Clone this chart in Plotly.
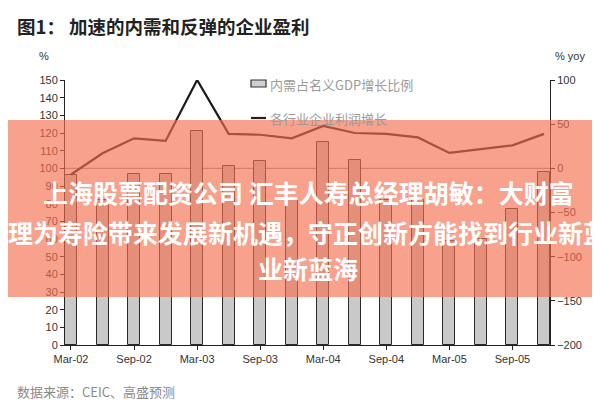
import plotly.graph_objects as go

# ---- data ----
quarters = ["Mar-02", "Jun-02", "Sep-02", "Dec-02", "Mar-03", "Jun-03", "Sep-03", "Dec-03",
            "Mar-04", "Jun-04", "Sep-04", "Dec-04", "Mar-05", "Jun-05", "Sep-05", "Dec-05"]
domestic_share = [96, 82, 97, 97, 121, 101.5, 104, 83, 115, 105, 82, 82, 59, 60, 77, 98]
profit_growth = [-7, 17, 34, 31, 100, 39, 38, 34, 48, 40, 39, 35, 17.5, 22, 26, 39]
tick_idx = [0, 2, 4, 6, 8, 10, 12, 14]
tick_text = [quarters[i] for i in tick_idx]
left_ticks = list(range(0, 151, 10))
right_ticks = list(range(-200, 101, 50))

W, H = 600, 400
ML, MR, MT, MB = 57, 58, 72, 63
PW, PH = W - ML - MR, H - MT - MB


def px(x):
    return (x - ML) / PW


def py(y):
    return (H - MB - y) / PH


FONT = "Liberation Sans, Arial, Noto Sans CJK SC, sans-serif"
CJK = "Noto Sans CJK SC, sans-serif"

xs = list(range(len(quarters)))

fig = go.Figure()
fig.add_trace(go.Bar(
    x=xs, y=domestic_share, width=0.38, name="内需占名义GDP增长比例",
    marker=dict(color="#c9c9c9", line=dict(color="#2a2a2a", width=1)),
    yaxis="y", showlegend=False,
))
fig.add_trace(go.Scatter(
    x=xs, y=profit_growth, mode="lines", name="各行业企业利润增长",
    line=dict(color="#1a1a1a", width=2.2), yaxis="y2", showlegend=False,
))

fig.update_layout(
    width=W, height=H,
    margin=dict(l=ML, r=MR, t=MT, b=MB, pad=0),
    paper_bgcolor="white", plot_bgcolor="white",
    font=dict(family=FONT, size=11, color="#333"),
    xaxis=dict(
        range=[-0.19, len(quarters) - 1 + 0.19], tickvals=tick_idx, ticktext=tick_text,
        showline=True, linecolor="#222", linewidth=1, ticks="outside", ticklen=4,
        tickcolor="#222", showgrid=False, zeroline=False,
        tickfont=dict(family=FONT, size=11, color="#333"),
    ),
    yaxis=dict(
        range=[0, 150], tickvals=left_ticks, showline=True, linecolor="#222", linewidth=1,
        ticks="outside", ticklen=4, tickcolor="#222", showgrid=False, zeroline=False,
        tickfont=dict(family=FONT, size=11, color="#333"),
    ),
    yaxis2=dict(
        range=[-200, 100], tickvals=right_ticks, overlaying="y", side="right",
        showline=True, linecolor="#222", linewidth=1, ticks="outside", ticklen=4,
        tickcolor="#222", showgrid=False, zeroline=False,
        tickfont=dict(family=FONT, size=11, color="#333"),
    ),
    bargap=0,
)

shapes = []
annotations = []

# right-axis zero reference line
shapes.append(dict(type="line", xref="paper", yref="y2", x0=0, x1=1, y0=0, y1=0,
                   line=dict(color="#8a8a8a", width=1), layer="below"))

# legend (manual)
shapes.append(dict(type="rect", xref="paper", yref="paper",
                   x0=px(243), x1=px(258), y0=py(79), y1=py(72),
                   fillcolor="#d0d0d0", line=dict(color="#333", width=1.2)))
annotations.append(dict(text="内需占名义GDP增长比例", xref="paper", yref="paper",
                        x=px(260), y=py(76), xanchor="left", yanchor="middle",
                        showarrow=False, font=dict(family=CJK, size=13, color="#9a9a9a")))
shapes.append(dict(type="line", xref="paper", yref="paper",
                   x0=px(243), x1=px(258), y0=py(110), y1=py(110),
                   line=dict(color="#222", width=2.2)))
annotations.append(dict(text="各行业企业利润增长", xref="paper", yref="paper",
                        x=px(260), y=py(110), xanchor="left", yanchor="middle",
                        showarrow=False, font=dict(family=CJK, size=13, color="#9a9a9a")))

# title, axis units, source
annotations.append(dict(text="<b>图1： 加速的内需和反弹的企业盈利</b>", xref="paper", yref="paper",
                        x=px(7), y=py(18), xanchor="left", yanchor="middle", showarrow=False,
                        font=dict(family=CJK, size=18.5, color="#222")))
annotations.append(dict(text="%", xref="paper", yref="paper", x=px(36), y=py(48),
                        xanchor="center", yanchor="middle", showarrow=False,
                        font=dict(family=FONT, size=11, color="#333")))
annotations.append(dict(text="% yoy", xref="paper", yref="paper", x=px(562), y=py(48),
                        xanchor="center", yanchor="middle", showarrow=False,
                        font=dict(family=FONT, size=11, color="#333")))
annotations.append(dict(text="数据来源：CEIC、高盛预测", xref="paper", yref="paper",
                        x=px(7), y=py(383), xanchor="left", yanchor="middle", showarrow=False,
                        font=dict(family=CJK, size=13, color="#8a8a8a")))

# overlay banner
shapes.append(dict(type="rect", xref="paper", yref="paper",
                   x0=px(0), x1=px(600), y0=py(289), y1=py(112),
                   fillcolor="rgba(245,110,80,0.65)", line=dict(width=0), layer="above"))
banner_lines = [
    ("上海股票配资公司 汇丰人寿总经理胡敏：大财富", 184),
    ("理为寿险带来发展新机遇，守正创新方能找到行业新蓝", 224),
    ("业新蓝海", 260),
]
for txt, yy in banner_lines:
    annotations.append(dict(text="<b>" + txt + "</b>", xref="paper", yref="paper",
                            x=px(300), y=py(yy), xanchor="center", yanchor="middle",
                            showarrow=False,
                            font=dict(family=CJK, size=25, color="white")))

fig.update_layout(shapes=shapes, annotations=annotations)
fig.write_html("out.html")
